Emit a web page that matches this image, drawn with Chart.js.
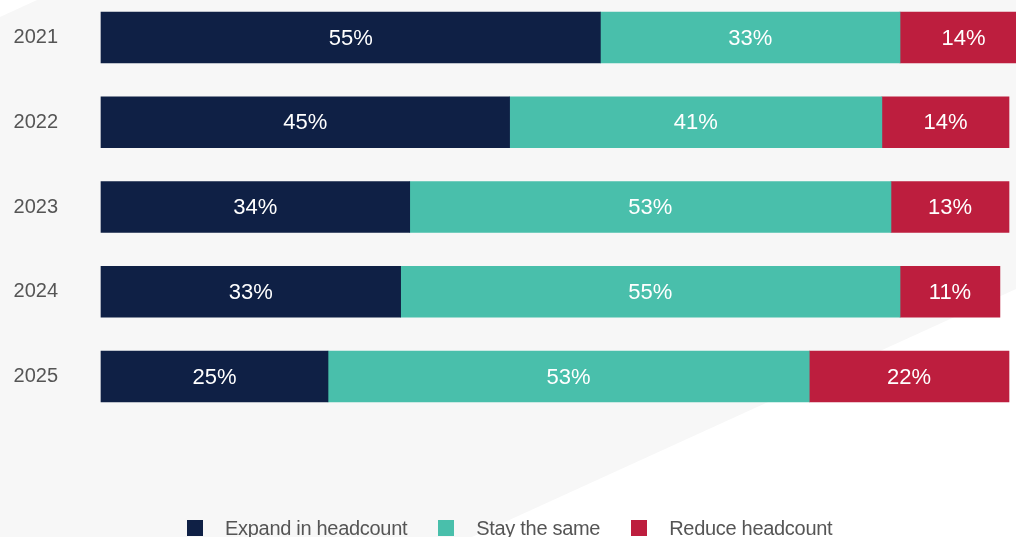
<!DOCTYPE html>
<html>
<head>
<meta charset="utf-8">
<script src="https://cdn.jsdelivr.net/npm/chart.js@4"></script>
<style>
  html, body { margin: 0; padding: 0; background: #fff; }
  #wrap { position: relative; width: 1016px; height: 537px; overflow: hidden; }
  #legend {
    position: absolute; left: 187px; top: 516px;
    display: flex; gap: 31px;
    font-family: "Liberation Sans", Arial, sans-serif; font-size: 20px; color: #555;
    letter-spacing: -0.3px;
  }
  #legend .item { display: flex; align-items: center; gap: 22px; line-height: 24px; }
  #legend .box { width: 16px; height: 16px; }
</style>
</head>
<body>
<div id="wrap">
  <canvas id="chart" width="1016" height="537"></canvas>
  <div id="legend"></div>
</div>
<script>
  // Survey years and the share of answers per option (percent)
  const years = ['2021', '2022', '2023', '2024', '2025'];
  const expand = [55, 45, 34, 33, 25];
  const same = [33, 41, 53, 55, 53];
  const reduce = [14, 14, 13, 11, 22];

  const seriesNames = ['Expand in headcount', 'Stay the same', 'Reduce headcount'];
  const seriesColors = ['#0f2045', '#49bfab', '#bd1e3e'];

  // Light grey backdrop with white diagonal corners
  const backdrop = {
    id: 'backdrop',
    beforeDraw(chart) {
      const ctx = chart.ctx;
      const w = chart.width, h = chart.height;
      ctx.save();
      ctx.fillStyle = '#ffffff';
      ctx.fillRect(0, 0, w, h);
      ctx.fillStyle = '#f7f7f7';
      ctx.beginPath();
      ctx.moveTo(37, 0);
      ctx.lineTo(w, 0);
      ctx.lineTo(w, 289);
      ctx.lineTo(472, h);
      ctx.lineTo(0, h);
      ctx.lineTo(0, 17);
      ctx.closePath();
      ctx.fill();
      ctx.restore();
    }
  };

  // Percentage text in the middle of every segment
  const segmentLabels = {
    id: 'segmentLabels',
    afterDatasetsDraw(chart) {
      const ctx = chart.ctx;
      ctx.save();
      ctx.fillStyle = '#ffffff';
      ctx.font = '22px "Liberation Sans", Arial, sans-serif';
      ctx.textAlign = 'center';
      ctx.textBaseline = 'middle';
      chart.data.datasets.forEach((ds, i) => {
        chart.getDatasetMeta(i).data.forEach((bar, j) => {
          const cx = (bar.x + bar.base) / 2;
          ctx.fillText(ds.data[j] + '%', cx, bar.y + 1);
        });
      });
      ctx.restore();
    }
  };

  const datasets = [expand, same, reduce].map((values, i) => ({
    label: seriesNames[i],
    data: values,
    backgroundColor: seriesColors[i],
    borderWidth: 0,
    barThickness: 51,
    clip: false
  }));

  new Chart(document.getElementById('chart'), {
    type: 'bar',
    data: { labels: years, datasets: datasets },
    options: {
      indexAxis: 'y',
      responsive: false,
      animation: false,
      layout: { padding: { top: 37.5, bottom: 160.5, left: 0, right: 7 } },
      scales: {
        x: {
          stacked: true,
          min: 0,
          max: 100,
          display: false
        },
        y: {
          stacked: true,
          offset: false,
          border: { display: false },
          grid: { display: false, drawTicks: false },
          ticks: {
            padding: 43,
            color: '#555555',
            font: { family: '"Liberation Sans", Arial, sans-serif', size: 20 }
          },
          afterFit(scale) {
            // fixed gutter for the year labels, no extra vertical padding
            scale.width = 101;
            scale.paddingTop = 0;
            scale.paddingBottom = 0;
          }
        }
      },
      plugins: {
        legend: { display: false },
        tooltip: { enabled: false }
      }
    },
    plugins: [backdrop, segmentLabels]
  });

  // Legend row under the bars
  const legend = document.getElementById('legend');
  seriesNames.forEach((name, i) => {
    const item = document.createElement('div');
    item.className = 'item';
    const box = document.createElement('span');
    box.className = 'box';
    box.style.background = seriesColors[i];
    const text = document.createElement('span');
    text.textContent = name;
    item.appendChild(box);
    item.appendChild(text);
    legend.appendChild(item);
  });
</script>
</body>
</html>
